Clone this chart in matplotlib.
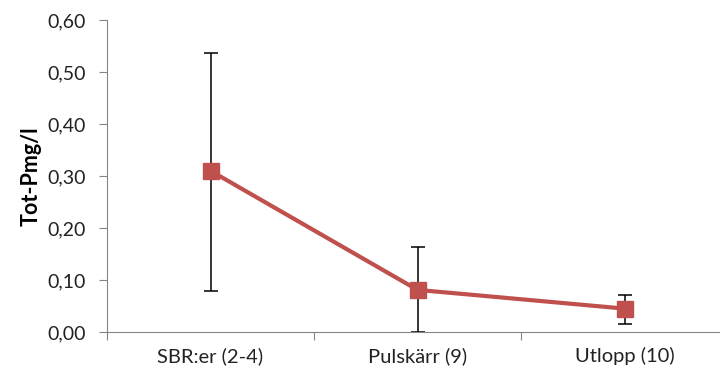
import matplotlib.pyplot as plt
from matplotlib.ticker import FuncFormatter

# data
stations = ["SBR:er (2-4)", "Pulskärr (9)", "Utlopp (10)"]
tot_p = [0.31, 0.081, 0.045]
err_low = [0.079, 0.0, 0.015]
err_high = [0.537, 0.163, 0.072]

plt.rcParams['font.family'] = ['Lato', 'DejaVu Sans']

fig = plt.figure(figsize=(7.2, 3.74), dpi=100)
ax = fig.add_axes([107 / 720, 1 - 332 / 374, 621 / 720, 312 / 374])

x = list(range(len(stations)))
lower = [v - lo for v, lo in zip(tot_p, err_low)]
upper = [hi - v for v, hi in zip(tot_p, err_high)]

ax.errorbar(x, tot_p, yerr=[lower, upper], fmt='none', ecolor='black',
            elinewidth=1.1, capsize=5, capthick=1.1, zorder=2)
ax.plot(x, tot_p, color='#C0504D', linewidth=3, marker='s', markersize=11,
        zorder=3)

ax.set_xlim(-0.5, 2.5)
ax.set_ylim(0, 0.6)
ax.set_yticks([0, 0.1, 0.2, 0.3, 0.4, 0.5, 0.6])
ax.yaxis.set_major_formatter(FuncFormatter(lambda v, p: f"{v:.2f}".replace('.', ',')))

ax.set_xticks([-0.5, 0.5, 1.5, 2.5])
ax.set_xticklabels([])
ax.set_xticks(x, minor=True)
ax.set_xticklabels(stations, minor=True)
ax.tick_params(axis='x', which='minor', length=0, pad=11, labelsize=14.5,
               labelcolor='#222222')
ax.tick_params(axis='x', which='major', length=6, color='#868686')
ax.tick_params(axis='y', length=6, color='#868686', labelsize=14, pad=9,
               labelcolor='#222222')

for s in ['top', 'right']:
    ax.spines[s].set_visible(False)
for s in ['left', 'bottom']:
    ax.spines[s].set_color('#868686')

ax.set_ylabel("Tot-Pmg/l", fontsize=15.5, fontweight='bold', labelpad=4)

fig.savefig("out.png", dpi=100)
